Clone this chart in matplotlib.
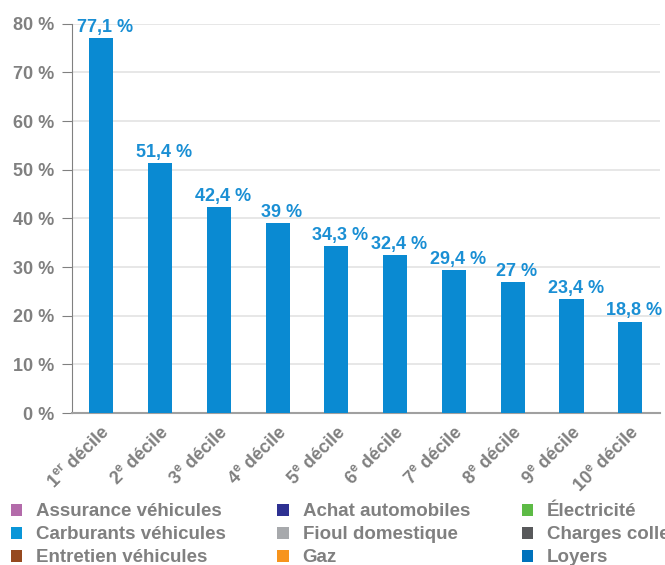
import matplotlib
matplotlib.use('Agg')
import matplotlib.pyplot as plt
from matplotlib.patches import Patch
import numpy as np

plt.rcParams['font.family'] = ['Liberation Sans', 'DejaVu Sans']
plt.rcParams['mathtext.default'] = 'regular'

# Data
deciles = ['1$^{er}$ décile', '2$^{e}$ décile', '3$^{e}$ décile', '4$^{e}$ décile',
           '5$^{e}$ décile', '6$^{e}$ décile', '7$^{e}$ décile', '8$^{e}$ décile',
           '9$^{e}$ décile', '10$^{e}$ décile']
totals = [77.1, 51.4, 42.4, 39, 34.3, 32.4, 29.4, 27, 23.4, 18.8]

# legend entries, listed column by column (legend fills columns first)
legend_labels = ['Assurance véhicules', 'Carburants véhicules', 'Entretien véhicules',
                 'Achat automobiles', 'Fioul domestique', 'Gaz',
                 'Électricité', 'Charges collectives', 'Loyers']
legend_colors = ['#B36BAA', '#0A96D8', '#96491F',
                 '#2E3192', '#A7A9AC', '#F7941D',
                 '#5DBB46', '#58595B', '#0072BC']

grey = '#808080'
blue = '#0A8AD2'

fig = plt.figure(figsize=(6.65, 5.65), dpi=100)
ax = fig.add_axes([0.108, 0.269, 0.884, 0.689])

x = np.arange(len(deciles))
bars = ax.bar(x, totals, width=0.41, color=blue, zorder=3)

for xi, v in zip(x, totals):
    txt = f'{v:g}'.replace('.', ',') + ' %'
    ax.annotate(txt, xy=(xi, v), xytext=(3, 1.5), textcoords='offset points',
                ha='center', va='bottom', fontsize=13, fontweight='bold',
                color='#1A8FD4', zorder=4)

ax.set_xlim(-0.5, len(deciles) - 0.5)
ax.set_ylim(0, 80)
ax.set_yticks(np.arange(0, 81, 10))
ax.set_yticklabels([f'{t} %' for t in range(0, 81, 10)])
ax.yaxis.grid(True, color='#E3E3E3', linewidth=1.2, zorder=0)

for s in ['top', 'right']:
    ax.spines[s].set_visible(False)
ax.spines['left'].set_color(grey)
ax.spines['bottom'].set_color('#A0A0A0')
ax.spines['bottom'].set_linewidth(1.5)

ax.tick_params(axis='y', length=7, color=grey, labelcolor=grey, labelsize=13, pad=6)
ax.tick_params(axis='x', length=0, labelcolor=grey, labelsize=13, pad=7)
for lab in ax.get_yticklabels():
    lab.set_fontweight('bold')

ax.set_xticks(x)
ax.set_xticklabels(deciles, rotation=45, ha='right', rotation_mode='anchor',
                   fontweight='bold')

handles = [Patch(facecolor=c, edgecolor='none') for c in legend_colors]
fig.legend(handles, legend_labels, ncol=3, loc='upper left',
           bbox_to_anchor=(0.016, 0.109), frameon=False,
           prop={'weight': 'bold', 'size': 13.5}, labelcolor=grey,
           handlelength=0.6, handleheight=0.6, handletextpad=0.75,
           columnspacing=2.75, labelspacing=0.32, borderaxespad=0, borderpad=0)

plt.savefig('out.png', dpi=100)
